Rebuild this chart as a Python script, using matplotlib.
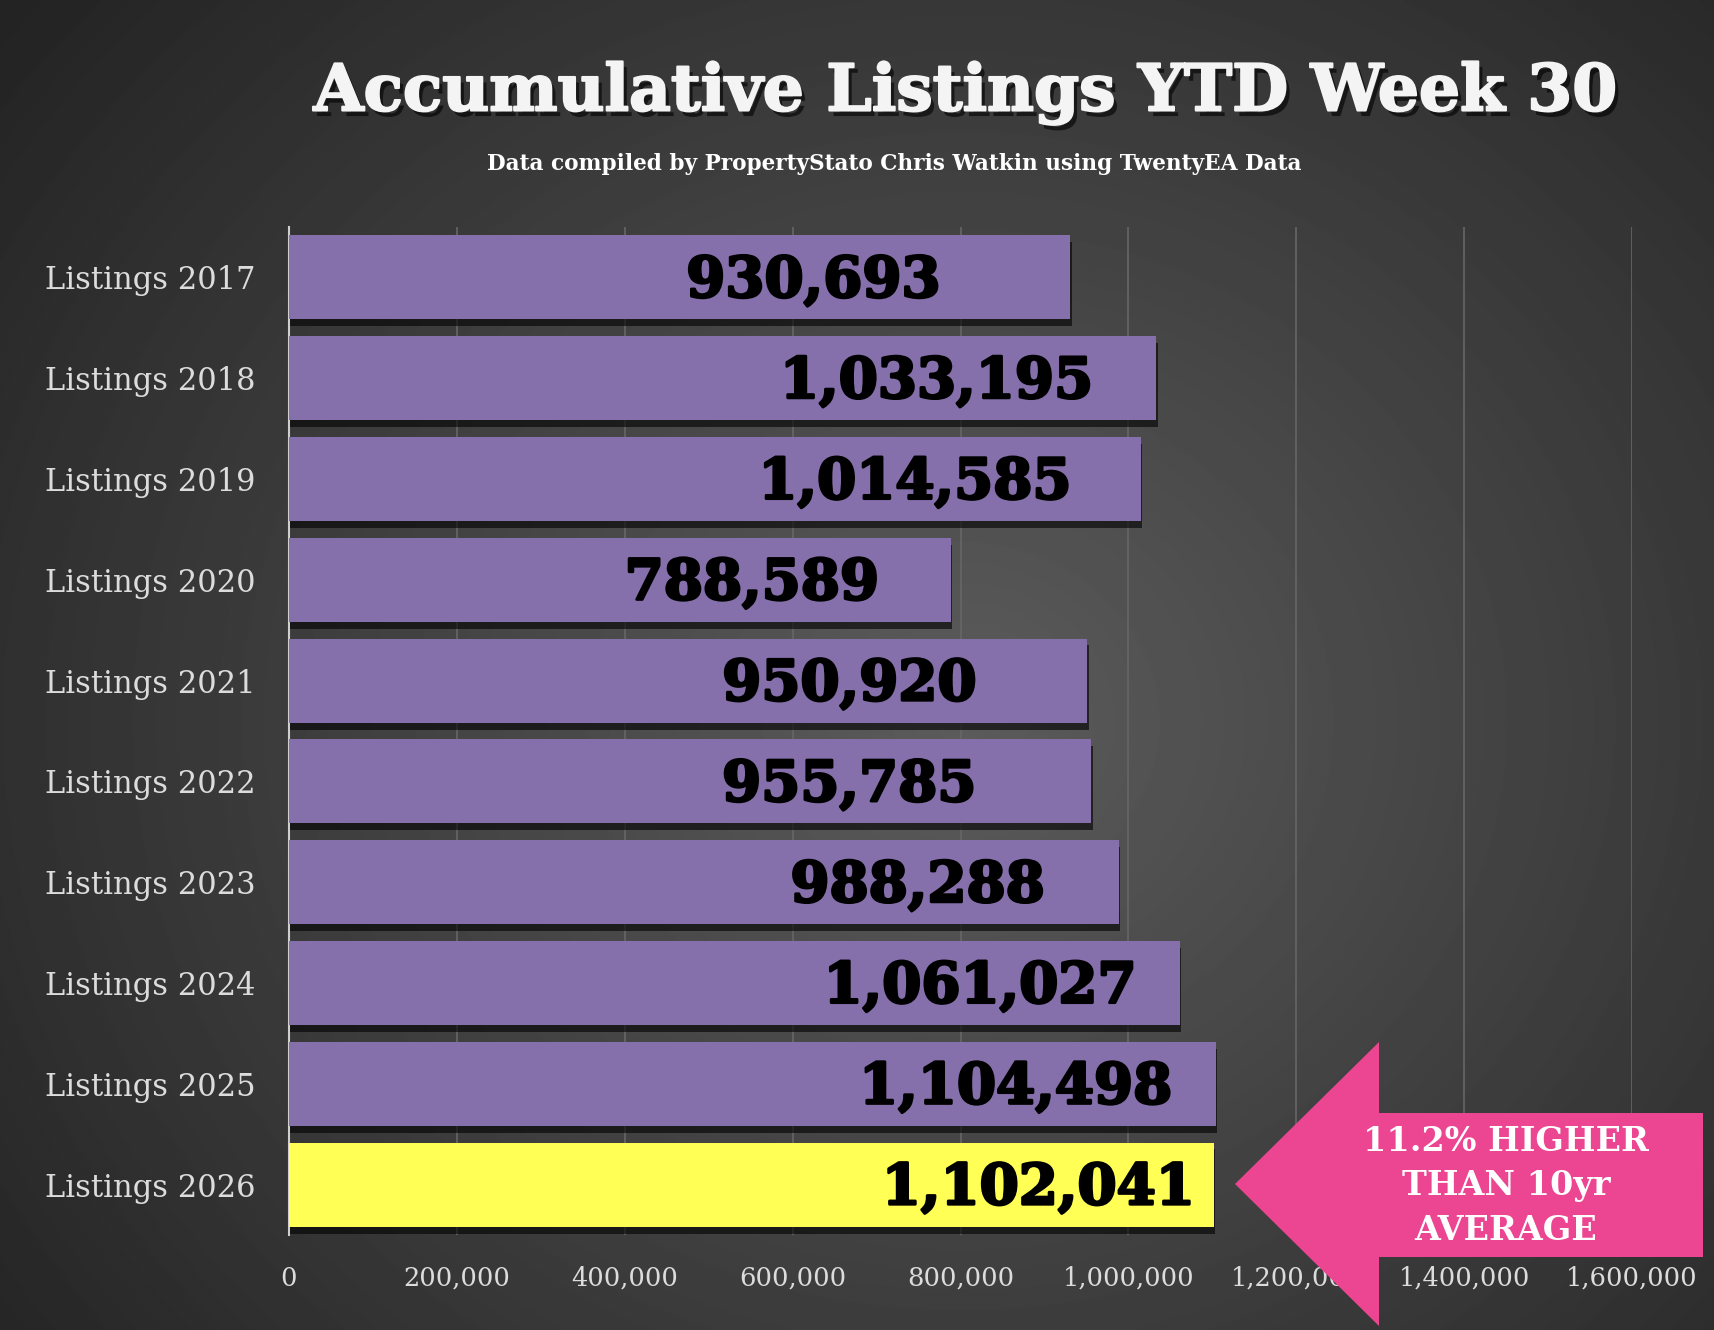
#!/usr/bin/env python
"""
Accumulative listings YTD week 30, horizontal bar chart on a dark background.
"""

import numpy as np
import matplotlib
matplotlib.use("Agg")
import matplotlib.pyplot as plt
import matplotlib.patheffects as pe
from matplotlib.patches import Polygon

# Data
categories = ["Listings 2017", "Listings 2018", "Listings 2019", "Listings 2020",
              "Listings 2021", "Listings 2022", "Listings 2023", "Listings 2024",
              "Listings 2025", "Listings 2026"]
listings = [930693, 1033195, 1014585, 788589, 950920,
            955785, 988288, 1061027, 1104498, 1102041]
x_ticks = [0, 200000, 400000, 600000, 800000, 1000000, 1200000, 1400000, 1600000]
callout = "11.2% HIGHER\nTHAN 10yr\nAVERAGE"

# Styling
PURPLE = "#8670AC"
YELLOW = "#FFFF55"
PINK = "#EC4591"
LIGHT = "#DCDCDC"
SERIF = "DejaVu Serif"

W, H = 1714, 1330
fig = plt.figure(figsize=(W / 100, H / 100), dpi=100)


def fx(px):
    return px / W


def fy(py):
    return 1 - py / H


# Radial gradient background
bg = fig.add_axes([0, 0, 1, 1], zorder=-10)
yy, xx = np.mgrid[0:H:2, 0:W:2]
r = np.sqrt(((xx - 960) / 1000.0) ** 2 + ((yy - 720) / 900.0) ** 2)
shade = np.clip(0.36 - 0.18 * r, 0.14, 0.36)
bg.imshow(shade, cmap="gray", vmin=0, vmax=1, aspect="auto",
          extent=[0, 1, 0, 1], interpolation="bilinear")
bg.axis("off")

# Main axes
ax = fig.add_axes([fx(289), fy(1235), fx(1632) - fx(289), fy(227) - fy(1235)])
ax.patch.set_alpha(0)

y = np.arange(len(categories))
colors = [PURPLE] * (len(categories) - 1) + [YELLOW]
bars = ax.barh(y, listings, height=0.835, color=colors, zorder=3)
for b in bars:
    b.set_path_effects([pe.SimplePatchShadow(offset=(1, -5), shadow_rgbFace="black",
                                             alpha=0.6), pe.Normal()])

ax.set_ylim(len(categories) - 0.5, -0.5)
ax.set_xlim(0, 1600000)
ax.set_xticks(x_ticks)
ax.set_xticklabels([f"{t:,}" for t in x_ticks])
ax.set_yticks(y)
ax.set_yticklabels(categories)
ax.tick_params(length=0, colors=LIGHT)
ax.tick_params(axis="x", pad=22, labelsize=18.5)
ax.tick_params(axis="y", pad=24, labelsize=22)
for lab in ax.get_xticklabels() + ax.get_yticklabels():
    lab.set_family(SERIF)
    lab.set_color(LIGHT)

ax.grid(axis="x", color="#666666", linewidth=1.2, zorder=0)
for s in ["top", "right", "bottom"]:
    ax.spines[s].set_visible(False)
ax.spines["left"].set_color("#CFCFCF")
ax.spines["left"].set_linewidth(1.5)

# Value labels, pulled in from the bar end by hand like the original
label_pad_px = [130, 63, 69, 72, 111, 115, 74, 43, 44, 19]
for yi, v, pad in zip(y, listings, label_pad_px):
    ax.annotate(f"{v:,}", xy=(v, yi), xytext=(-pad * 0.72, -3),
                textcoords="offset points", ha="right", va="center",
                fontsize=40.5, fontweight="bold", family=SERIF, color="black",
                zorder=5,
                path_effects=[pe.withStroke(linewidth=2, foreground="black")])

# Title and subtitle
title = fig.text(fx(966), fy(93), "Accumulative Listings YTD Week 30",
                 ha="center", va="center", fontsize=46.5, fontweight="bold",
                 family=SERIF, color="#F4F4F4")
title.set_path_effects([pe.SimplePatchShadow(offset=(3, -4), shadow_rgbFace="black",
                                             alpha=0.6),
                        pe.withStroke(linewidth=1.5, foreground="#F4F4F4")])
fig.text(fx(894), fy(164), "Data compiled by PropertyStato Chris Watkin using TwentyEA Data",
         ha="center", va="center", fontsize=15.6, fontweight="bold",
         family=SERIF, color="white")

# Pink callout arrow
pts = [(1235, 1184), (1379, 1042), (1379, 1113), (1703, 1113),
       (1703, 1257), (1379, 1257), (1379, 1326)]
arrow = Polygon([(fx(px), fy(py)) for px, py in pts], closed=True,
                transform=fig.transFigure, facecolor=PINK, edgecolor="none",
                zorder=20)
fig.add_artist(arrow)
fig.text(fx(1506), fy(1186), callout, ha="center", va="center",
         fontsize=24, fontweight="bold", family=SERIF, color="white",
         linespacing=1.45, zorder=21)

fig.savefig("out.png", dpi=100)
